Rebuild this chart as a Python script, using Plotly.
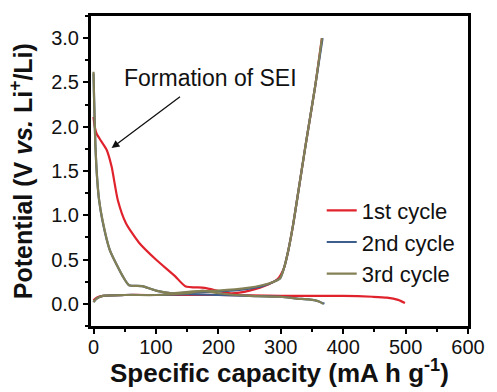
import plotly.graph_objects as go

# ---- data ----
# 1st cycle
c1_a_cap = [0, 2, 5, 12, 21, 29, 39, 52, 73, 100, 131, 147, 178, 220, 250, 280, 295, 305, 312, 320, 326, 340, 355, 366]
c1_a_v   = [2.11, 2.0, 1.92, 1.84, 1.74, 1.55, 1.17, 0.91, 0.69, 0.5, 0.31, 0.2, 0.18, 0.12, 0.15, 0.22, 0.28, 0.4, 0.6, 0.9, 1.17, 1.8, 2.45, 3.0]
c1_b_cap = [0, 5, 15, 50, 100, 200, 300, 400, 447, 470, 488, 499]
c1_b_v   = [0.04, 0.07, 0.09, 0.1, 0.1, 0.1, 0.09, 0.09, 0.08, 0.07, 0.045, 0.01]

# 2nd cycle
c2_a_cap = [0, 1, 3, 6, 9, 14, 26, 47, 57, 78, 100, 126, 160, 200, 247, 270, 289, 299, 305, 312, 320, 326, 340, 355, 367]
c2_a_v   = [2.6, 2.3, 1.8, 1.4, 1.17, 0.95, 0.61, 0.31, 0.21, 0.2, 0.15, 0.12, 0.13, 0.14, 0.17, 0.2, 0.25, 0.29, 0.4, 0.6, 0.9, 1.17, 1.8, 2.45, 3.0]
c2_b_cap = [0, 5, 15, 50, 100, 150, 200, 250, 300, 326, 345, 360, 370]
c2_b_v   = [0.02, 0.06, 0.09, 0.1, 0.1, 0.11, 0.1, 0.09, 0.08, 0.06, 0.05, 0.03, 0.0]

# 3rd cycle
c3_a_cap = [0, 1, 3, 6, 9, 14, 26, 47, 57, 78, 100, 126, 160, 200, 247, 270, 289, 299, 305, 312, 320, 326, 340, 355, 366]
c3_a_v   = [2.62, 2.3, 1.8, 1.4, 1.17, 0.96, 0.61, 0.31, 0.21, 0.2, 0.15, 0.12, 0.14, 0.15, 0.18, 0.21, 0.25, 0.29, 0.4, 0.6, 0.9, 1.17, 1.8, 2.45, 3.0]
c3_b_cap = [0, 5, 15, 50, 100, 150, 175, 200, 250, 300, 326, 345, 360, 368]
c3_b_v   = [0.02, 0.06, 0.09, 0.1, 0.1, 0.12, 0.15, 0.12, 0.09, 0.08, 0.06, 0.05, 0.03, 0.0]

names = ["1st cycle", "2nd cycle", "3rd cycle"]
colors = ["#e0222c", "#3d5d8c", "#838055"]

x_ticks = [0, 100, 200, 300, 400, 500, 600]
y_ticks = [0.0, 0.5, 1.0, 1.5, 2.0, 2.5, 3.0]

FONT = "Liberation Sans, Arial, sans-serif"

fig = go.Figure()
series = [
    (c1_a_cap, c1_a_v, c1_b_cap, c1_b_v),
    (c2_a_cap, c2_a_v, c2_b_cap, c2_b_v),
    (c3_a_cap, c3_a_v, c3_b_cap, c3_b_v),
]
for i, (xa, ya, xb, yb) in enumerate(series):
    fig.add_trace(go.Scatter(x=xa, y=ya, mode="lines", name=names[i],
                             line=dict(color=colors[i], width=2.2, shape="spline", smoothing=0.6)))
    fig.add_trace(go.Scatter(x=xb, y=yb, mode="lines", name=names[i], showlegend=False,
                             line=dict(color=colors[i], width=2.2, shape="spline", smoothing=0.6)))

fig.add_annotation(x=29, y=1.76, ax=141, ay=2.35, axref="x", ayref="y",
                   xref="x", yref="y", showarrow=True, arrowhead=2, arrowsize=1.2,
                   arrowwidth=1.3, arrowcolor="#111", text="")
fig.add_annotation(x=188, y=2.55, xref="x", yref="y", showarrow=False,
                   text="Formation of SEI", font=dict(size=23, color="#111", family=FONT))

# axis titles placed as text at the reference positions
fig.add_annotation(x=-0.185, y=0.5, xref="paper", yref="paper", showarrow=False,
                   textangle=-90, xanchor="center", yanchor="middle",
                   text="<b>Potential (V <i>vs.</i> Li<sup>+</sup>/Li)</b>",
                   font=dict(size=25, color="#111", family=FONT))
fig.add_annotation(x=0.5, y=-0.148, xref="paper", yref="paper", showarrow=False,
                   xanchor="center", yanchor="middle",
                   text="<b>Specific capacity (mA h g<sup>-1</sup>)</b>",
                   font=dict(size=26, color="#111", family=FONT))

axis_common = dict(showline=True, linewidth=3, linecolor="black", mirror=True,
                   ticks="outside", ticklen=5, tickwidth=2, tickcolor="black",
                   showgrid=False, zeroline=False,
                   tickfont=dict(size=20, color="#111", family=FONT))

fig.update_xaxes(range=[-4, 600], tickvals=x_ticks, ticktext=[str(v) for v in x_ticks],
                 minor=dict(ticks="outside", ticklen=3, tickwidth=2, dtick=50, tickcolor="black"),
                 ticklabelstandoff=-4,
                 **axis_common)
fig.update_yaxes(range=[-0.25, 3.25], tickvals=y_ticks, ticktext=["%.1f" % v for v in y_ticks],
                 minor=dict(ticks="outside", ticklen=3, tickwidth=2, dtick=0.25, tickcolor="black"),
                 **axis_common)

fig.update_layout(
    width=497, height=392,
    margin=dict(l=91, r=22, t=16, b=66),
    paper_bgcolor="white", plot_bgcolor="white",
    font=dict(family=FONT, color="#111"),
    legend=dict(x=0.612, y=0.44, xanchor="left", yanchor="top",
                bgcolor="rgba(0,0,0,0)", font=dict(size=22, color="#111", family=FONT),
                tracegroupgap=0),
    showlegend=True,
)

fig.write_html("out.html")
